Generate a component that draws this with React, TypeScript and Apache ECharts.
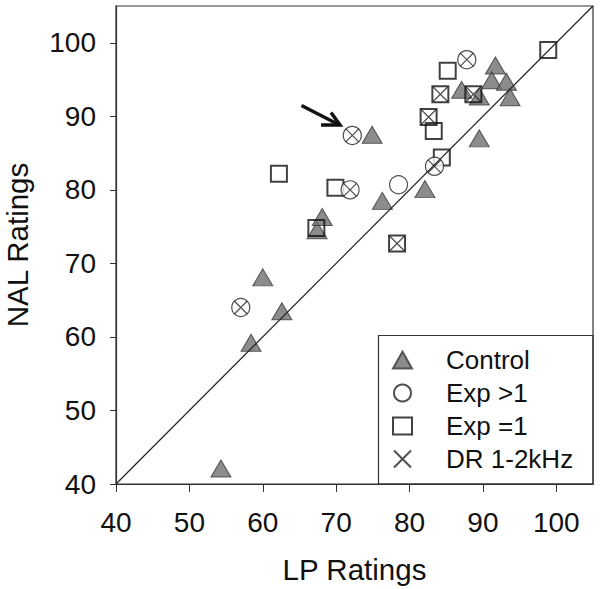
import React, { useEffect, useRef } from "react";
import * as echarts from "echarts";

const xTicks = [40, 50, 60, 70, 80, 90, 100];
const yTicks = [40, 50, 60, 70, 80, 90, 100];

// [LP rating, NAL rating]
const control: [number, number][] = [
  [54.3, 42.1], [58.4, 59.2], [60.0, 68.1], [62.6, 63.5], [67.4, 74.5], [68.1, 76.3],
  [74.9, 87.5], [76.3, 78.5], [82.1, 80.1], [87.1, 93.6], [89.5, 92.7], [89.5, 87.0],
  [91.7, 96.9], [91.2, 94.9], [93.2, 94.7], [93.7, 92.6],
];
const expGt1: [number, number][] = [
  [57.0, 64.0], [71.9, 80.0], [72.2, 87.4], [78.5, 80.7], [83.4, 83.2], [87.8, 97.7],
];
const expEq1: [number, number][] = [
  [62.2, 82.2], [67.3, 74.8], [69.9, 80.3], [78.3, 72.7], [82.6, 89.9], [83.3, 88.0],
  [84.2, 93.0], [84.4, 84.4], [85.2, 96.2], [88.7, 93.0], [98.9, 99.0],
];
const dr12: [number, number][] = [
  [57.0, 64.0], [71.9, 80.0], [72.2, 87.4], [83.4, 83.2], [87.8, 97.7],
  [78.3, 72.7], [82.6, 89.9], [84.2, 93.0], [88.7, 93.0],
];
const identity: [number, number][] = [[40, 40], [105, 105]];

const FONT = "'Liberation Sans', Arial, sans-serif";

export default function App() {
  const ref = useRef<HTMLDivElement>(null);
  useEffect(() => {
    if (!ref.current) return;
    const chart = echarts.init(ref.current, undefined, { renderer: "svg" });
    const isSquare = (v: number[]) => expEq1.some((p) => p[0] === v[0] && p[1] === v[1]);
    chart.setOption({
      animation: false,
      backgroundColor: "#fff",
      textStyle: { fontFamily: FONT },
      grid: {
        left: 116, right: 7, top: 6, bottom: 105,
        outerBoundsMode: "none", containLabel: false,
        show: true, borderColor: "#333", borderWidth: 1.2,
      },
      xAxis: {
        type: "value", min: 40, max: 105, interval: 10,
        name: "LP Ratings", nameLocation: "middle", nameGap: 70,
        nameTextStyle: { fontSize: 29.5, color: "#111", fontFamily: FONT },
        axisLine: { show: true, lineStyle: { color: "#333", width: 1.2 } },
        axisTick: { show: true, length: 8, customValues: xTicks, lineStyle: { color: "#333" } },
        axisLabel: { fontSize: 28, color: "#111", margin: 24, customValues: xTicks, fontFamily: FONT },
        splitLine: { show: false },
      },
      yAxis: {
        type: "value", min: 40, max: 105, interval: 10,
        name: "NAL Ratings", nameLocation: "middle", nameGap: 84, nameRotate: 90,
        nameTextStyle: { fontSize: 29.5, color: "#111", fontFamily: FONT },
        axisLine: { show: true, lineStyle: { color: "#333", width: 1.2 } },
        axisTick: { show: true, length: 6, customValues: yTicks, lineStyle: { color: "#333" } },
        axisLabel: { fontSize: 28, color: "#111", margin: 20, customValues: yTicks, fontFamily: FONT },
        splitLine: { show: false },
      },
      legend: {
        orient: "vertical", left: 387, top: 342,
        itemWidth: 19, itemHeight: 17, itemGap: 7,
        data: ["Control", "Exp >1", "Exp =1", "DR 1-2kHz"],
        textStyle: {
          fontSize: 26, lineHeight: 26, color: "#111", fontFamily: FONT, padding: [0, 0, 0, 29],
        },
      },
      graphic: [
        {
          type: "rect", shape: { x: 378.5, y: 335.5, width: 214.5, height: 148.5 },
          style: { fill: "none", stroke: "#333", lineWidth: 1.2 }, z: 1,
        },
        {
          type: "line", shape: { x1: 301.5, y1: 105.5, x2: 339.5, y2: 125 },
          style: { stroke: "#111", lineWidth: 3.5 }, z: 10,
        },
        {
          type: "polyline", shape: { points: [[321, 125], [340, 125], [331, 112.5]] },
          style: { stroke: "#111", lineWidth: 3.5, fill: "none" }, z: 10,
        },
      ],
      series: [
        {
          name: "identity", type: "line", data: identity, symbol: "none", silent: true,
          lineStyle: { color: "#222", width: 1.2 }, z: 5,
        },
        {
          name: "Control", type: "scatter", data: control, symbol: "triangle", symbolSize: [20, 17],
          itemStyle: { color: "#6f6f6f", borderColor: "#3a3a3a", borderWidth: 1 }, z: 2,
        },
        {
          name: "Exp =1", type: "scatter", data: expEq1, symbol: "rect", symbolSize: 16,
          itemStyle: { color: "transparent", borderColor: "#111", borderWidth: 2 }, z: 3,
        },
        {
          name: "Exp >1", type: "scatter", data: expGt1, symbol: "circle", symbolSize: 18,
          itemStyle: { color: "#fff", borderColor: "#222", borderWidth: 1.2 }, z: 4,
        },
        {
          name: "DR 1-2kHz", type: "scatter", data: dr12,
          symbol: "path://M0 0L10 10M10 0L0 10",
          symbolSize: (v: number[]) => (isSquare(v) ? 15 : 13),
          itemStyle: { color: "transparent", borderColor: "#222", borderWidth: 1.2 }, z: 6,
        },
      ],
    });
    return () => chart.dispose();
  }, []);
  return (
    <div
      ref={ref}
      style={{ position: "absolute", left: 0, top: 0, width: 600, height: 589 }}
    />
  );
}
